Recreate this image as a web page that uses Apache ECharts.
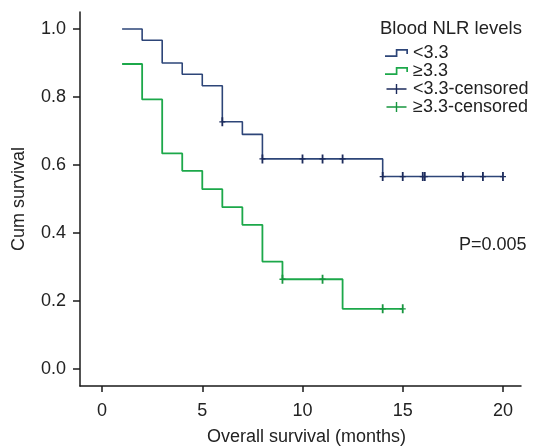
<!DOCTYPE html>
<html>
<head>
<meta charset="utf-8">
<script src="https://cdn.jsdelivr.net/npm/echarts@6/dist/echarts.min.js"></script>
<style>html,body{margin:0;padding:0;background:#fff;}#c{width:536px;height:448px;}</style>
</head>
<body>
<div id="c"></div>
<script>
// Kaplan-Meier step data [month, cumulative survival]
var lowNLR = [[1,1.0],[2,0.967],[3,0.9],[4,0.867],[5,0.833],[6,0.727],[7,0.69],[8,0.618],[14,0.566],[20,0.566]];
var highNLR = [[1,0.897],[2,0.793],[3,0.634],[4,0.583],[5,0.529],[6,0.476],[7,0.424],[8,0.316],[9,0.264],[12,0.177],[15,0.177]];
var lowCensored = [[6,0.727],[8,0.618],[10,0.618],[11,0.618],[12,0.618],[14,0.566],[15,0.566],[16,0.566],[16.1,0.566],[18,0.566],[19,0.566],[20,0.566]];
var highCensored = [[9,0.264],[11,0.264],[14,0.177],[15,0.177]];
var xTicks = [0,5,10,15,20];
var yTicks = [0,0.2,0.4,0.6,0.8,1.0];
var seriesNames = ['<3.3','\u22653.3','<3.3-censored','\u22653.3-censored'];
var pText = 'P=0.005';

var FONT = '"Liberation Sans", Arial, Helvetica, sans-serif';
var BLUE = '#2d4578', GREEN = '#1ca84a', BLUE_C = '#1c2b5c', GREEN_C = '#17963f';
var stepIcon = 'path://M0,7.2L10.2,7.2L10.2,1.2L21.8,1.2L21.8,6L20.2,6L20.2,2.8L11.8,2.8L11.8,8.8L0,8.8Z';
var plusIcon = 'path://M2,4.3L11.3,4.3L11.3,0L12.7,0L12.7,4.3L22,4.3L22,5.7L12.7,5.7L12.7,10L11.3,10L11.3,5.7L2,5.7Z';
var plusMark = 'path://M-0.3,-1L0.3,-1L0.3,-0.15L1,-0.15L1,0.15L0.3,0.15L0.3,1L-0.3,1L-0.3,0.15L-1,0.15L-1,-0.15L-0.3,-0.15Z';

var chart = echarts.init(document.getElementById('c'), null, {renderer:'canvas'});
chart.setOption({
  animation: false,
  backgroundColor: '#fff',
  textStyle: {fontFamily: FONT},
  title: {text: 'Blood NLR levels', left: 380, top: 19, padding: 0,
    textStyle: {fontSize: 18.5, fontWeight: 'normal', color: '#222', fontFamily: FONT}},
  legend: {
    orient: 'vertical', left: 385, top: 44, padding: 0, itemGap: 0,
    itemWidth: 23, itemHeight: 10,
    textStyle: {fontSize: 18, lineHeight: 16, color: '#222', fontFamily: FONT},
    data: [
      {name: seriesNames[0], icon: stepIcon, itemStyle: {color: BLUE}},
      {name: seriesNames[1], icon: stepIcon, itemStyle: {color: GREEN}},
      {name: seriesNames[2], icon: plusIcon, itemStyle: {color: BLUE_C}},
      {name: seriesNames[3], icon: plusIcon, itemStyle: {color: GREEN_C}}
    ]
  },
  grid: {left: 80, top: 12, right: 15, bottom: 62, containLabel: false, outerBoundsMode: 'none'},
  xAxis: {
    type: 'value', min: -1.1, max: 20.9,
    name: 'Overall survival (months)', nameLocation: 'middle', nameGap: 42,
    nameTextStyle: {fontSize: 18, color: '#222', padding: [0,0,0,12], fontFamily: FONT},
    axisLine: {onZero: false, lineStyle: {color: '#1a1a1a', width: 1.5}},
    axisTick: {show: true, length: 6, customValues: xTicks, lineStyle: {color: '#1a1a1a', width: 1.5}},
    axisLabel: {customValues: xTicks, margin: 16, fontSize: 18, color: '#222', fontFamily: FONT},
    splitLine: {show: false}
  },
  yAxis: {
    type: 'value', min: -0.05, max: 1.05,
    name: 'Cum survival', nameLocation: 'middle', nameGap: 52,
    nameTextStyle: {fontSize: 18, color: '#222', fontFamily: FONT},
    axisLine: {show: true, onZero: false, lineStyle: {color: '#1a1a1a', width: 1.5}},
    axisTick: {show: true, length: 7, customValues: yTicks, lineStyle: {color: '#1a1a1a', width: 1.5}},
    axisLabel: {customValues: yTicks, margin: 14, fontSize: 18, color: '#222', fontFamily: FONT,
      formatter: function(v){ return v.toFixed(1); }},
    splitLine: {show: false}
  },
  graphic: [{type: 'text', left: 459, top: 236,
    style: {text: pText, fontSize: 18, fill: '#222', fontFamily: FONT}}],
  series: [
    {name: seriesNames[0], type: 'line', step: 'end', data: lowNLR, showSymbol: false, symbol: 'none',
      lineStyle: {color: BLUE, width: 1.6}, itemStyle: {color: BLUE}, z: 2},
    {name: seriesNames[1], type: 'line', step: 'end', data: highNLR, showSymbol: false, symbol: 'none',
      lineStyle: {color: GREEN, width: 1.8}, itemStyle: {color: GREEN}, z: 2},
    {name: seriesNames[2], type: 'scatter', data: lowCensored, symbol: plusMark, symbolSize: [6, 9],
      itemStyle: {color: BLUE_C, opacity: 1}, z: 3},
    {name: seriesNames[3], type: 'scatter', data: highCensored, symbol: plusMark, symbolSize: [6, 9],
      itemStyle: {color: GREEN_C, opacity: 1}, z: 3}
  ]
});
</script>
</body>
</html>
